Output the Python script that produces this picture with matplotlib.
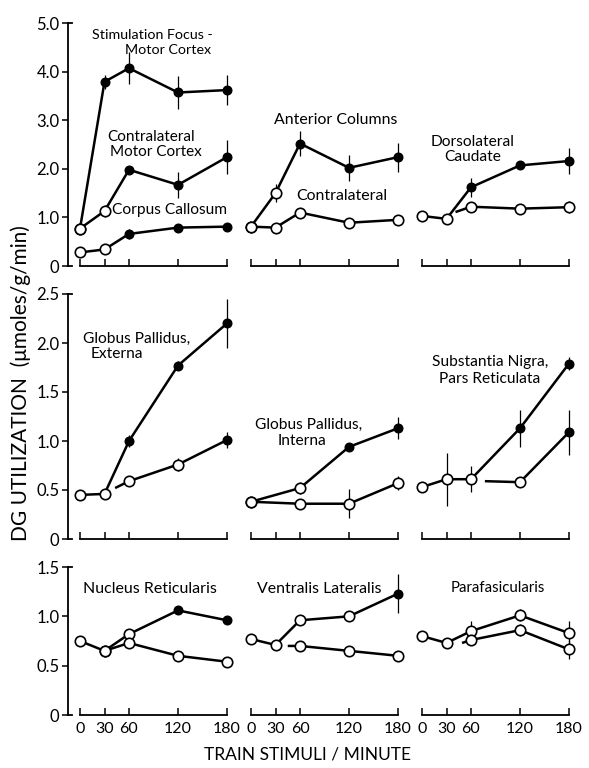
import matplotlib
matplotlib.use("Agg")
import matplotlib.pyplot as plt

plt.rcParams['font.family'] = ['Lato', 'DejaVu Sans']

W, H = 589, 768

X = [0, 30, 60, 120, 180]
XTICK_LABELS = ["0", "30", "60", "120", "180"]

# marker codes: o = open, f = filled, - = no marker (line start stub)

# --- top row ---
focus_y = [0.77, 3.79, 4.07, 3.57, 3.62]
focus_err = [0, 0.15, 0.33, 0.33, 0.3]
focus_mk = "offff"
contra_mc_y = [0.77, 1.13, 1.98, 1.67, 2.24]
contra_mc_err = [0, 0.12, 0.05, 0.27, 0.35]
contra_mc_mk = "oofff"
callosum_y = [0.28, 0.34, 0.66, 0.79, 0.81]
callosum_err = [0, 0, 0.1, 0.05, 0.05]
callosum_mk = "oofff"

ant_col_y = [0.81, 1.50, 2.52, 2.02, 2.24]
ant_col_err = [0, 0.18, 0.26, 0.27, 0.3]
ant_col_mk = "oofff"
ant_contra_y = [0.81, 0.79, 1.10, 0.89, 0.95]
ant_contra_err = [0, 0, 0.05, 0.05, 0.05]
ant_contra_mk = "ooooo"

caudate_y = [1.03, 0.97, 1.62, 2.07, 2.16]
caudate_err = [0, 0, 0.2, 0.05, 0.27]
caudate_mk = "oofff"
caudate_contra_x = [41, 60, 120, 180]
caudate_contra_y = [1.11, 1.22, 1.18, 1.21]
caudate_contra_err = [0, 0.05, 0.05, 0.12]
caudate_contra_mk = "-ooo"

# --- middle row ---
gpe_y = [0.45, 0.46, 1.00, 1.77, 2.20]
gpe_err = [0, 0, 0.06, 0.05, 0.25]
gpe_mk = "oofff"
gpe_contra_x = [43, 60, 120, 180]
gpe_contra_y = [0.52, 0.59, 0.76, 1.01]
gpe_contra_err = [0, 0.04, 0.07, 0.08]
gpe_contra_mk = "-oof"

gpi_x = [0, 60, 120, 180]
gpi_y = [0.38, 0.52, 0.94, 1.13]
gpi_err = [0, 0.06, 0.03, 0.11]
gpi_mk = "ooff"
gpi_contra_x = [0, 60, 120, 180]
gpi_contra_y = [0.38, 0.36, 0.36, 0.57]
gpi_contra_err = [0, 0, 0.15, 0.07]
gpi_contra_mk = "oooo"

snr_y = [0.53, 0.61, 0.61, 1.13, 1.79]
snr_err = [0, 0.27, 0.13, 0.19, 0.07]
snr_mk = "oooff"
snr_contra_x = [77, 120, 180]
snr_contra_y = [0.59, 0.58, 1.09]
snr_contra_err = [0, 0.05, 0.23]
snr_contra_mk = "-of"

# --- bottom row ---
nr_y = [0.75, 0.65, 0.82, 1.06, 0.96]
nr_err = [0, 0, 0.03, 0.04, 0.03]
nr_mk = "oooff"
nr_contra_x = [30, 60, 120, 180]
nr_contra_y = [0.65, 0.73, 0.60, 0.54]
nr_contra_err = [0, 0, 0.03, 0.02]
nr_contra_mk = "oooo"

vl_y = [0.77, 0.71, 0.96, 1.00, 1.23]
vl_err = [0, 0, 0.05, 0.03, 0.2]
vl_mk = "oooof"
vl_contra_x = [45, 60, 120, 180]
vl_contra_y = [0.70, 0.70, 0.65, 0.60]
vl_contra_err = [0, 0, 0.03, 0.05]
vl_contra_mk = "-ooo"

pf_y = [0.80, 0.73, 0.85, 1.01, 0.83]
pf_err = [0, 0, 0.1, 0.06, 0.12]
pf_mk = "ooooo"
pf_contra_x = [49, 60, 120, 180]
pf_contra_y = [0.73, 0.76, 0.86, 0.665]
pf_contra_err = [0, 0, 0.06, 0.1]
pf_contra_mk = "-ooo"

# layout in pixels
COL_X0 = [80, 251, 422]          # pixel of x = 0
SX = 147 / 180                    # px per x unit
ROWS = [(266, 23, 5.0, [0, 1, 2, 3, 4, 5], ["0", "1.0", "2.0", "3.0", "4.0", "5.0"]),
        (539, 294, 2.5, [0, 0.5, 1, 1.5, 2, 2.5], ["0", "0.5", "1.0", "1.5", "2.0", "2.5"]),
        (715, 567, 1.5, [0, 0.5, 1, 1.5], ["0", "0.5", "1.0", "1.5"])]

panels = [
    [[(X, focus_y, focus_err, focus_mk), (X, contra_mc_y, contra_mc_err, contra_mc_mk),
      (X, callosum_y, callosum_err, callosum_mk)],
     [(X, ant_col_y, ant_col_err, ant_col_mk), (X, ant_contra_y, ant_contra_err, ant_contra_mk)],
     [(X, caudate_y, caudate_err, caudate_mk),
      (caudate_contra_x, caudate_contra_y, caudate_contra_err, caudate_contra_mk)]],
    [[(X, gpe_y, gpe_err, gpe_mk), (gpe_contra_x, gpe_contra_y, gpe_contra_err, gpe_contra_mk)],
     [(gpi_x, gpi_y, gpi_err, gpi_mk), (gpi_contra_x, gpi_contra_y, gpi_contra_err, gpi_contra_mk)],
     [(X, snr_y, snr_err, snr_mk), (snr_contra_x, snr_contra_y, snr_contra_err, snr_contra_mk)]],
    [[(X, nr_y, nr_err, nr_mk), (nr_contra_x, nr_contra_y, nr_contra_err, nr_contra_mk)],
     [(X, vl_y, vl_err, vl_mk), (vl_contra_x, vl_contra_y, vl_contra_err, vl_contra_mk)],
     [(X, pf_y, pf_err, pf_mk), (pf_contra_x, pf_contra_y, pf_contra_err, pf_contra_mk)]],
]

# panel labels: (text, center x px, center y px, font size)
labels = [
    ("Stimulation Focus -", 152, 35, 10.3), ("Motor Cortex", 168, 50, 10.3),
    ("Contralateral", 151, 137, 11), ("Motor Cortex", 156, 152, 11),
    ("Corpus Callosum", 170, 210, 11.2),
    ("Anterior Columns", 336, 120, 11.4), ("Contralateral", 342, 196, 11.4),
    ("Dorsolateral", 473, 142, 11.2), ("Caudate", 473, 157, 11.2),
    ("Globus Pallidus,", 137, 339, 11.2), ("Externa", 117, 354, 11.2),
    ("Globus Pallidus,", 309, 425, 11.2), ("Interna", 302, 441, 11.2),
    ("Substantia Nigra,", 490, 362, 11.2), ("Pars Reticulata", 490, 379, 11.2),
    ("Nucleus Reticularis", 150, 589, 11.5), ("Ventralis Lateralis", 319, 589, 11.4),
    ("Parafasicularis", 498, 588, 10.8),
]

fig = plt.figure(figsize=(W / 100, H / 100), dpi=100)


def draw_series(ax, xs, ys, errs, marks):
    ax.plot(xs, ys, color='k', lw=1.8, zorder=2, solid_capstyle='butt')
    for x, y, e, m in zip(xs, ys, errs, marks):
        if e:
            ax.vlines(x, y - e, y + e, color='k', lw=0.9, zorder=1)
        if m == 'o':
            ax.plot(x, y, 'o', ms=7.5, mfc='white', mec='k', mew=1.2, zorder=3)
        elif m == 'f':
            ax.plot(x, y, 'o', ms=6.2, color='k', zorder=3)


for r, (y0, ytop, ymax, yt, ytl) in enumerate(ROWS):
    for c, x0 in enumerate(COL_X0):
        left = x0 - 15 * SX
        ax = fig.add_axes([left / W, 1 - y0 / H, 210 * SX / W, (y0 - ytop) / H])
        ax.set_xlim(-15, 195)
        ax.set_ylim(0, ymax)
        ax.patch.set_alpha(0)
        for s in ('top', 'right'):
            ax.spines[s].set_visible(False)
        ax.spines['bottom'].set_bounds(0, 180)
        ax.spines['bottom'].set_linewidth(1.3)
        ax.set_xticks(X)
        ax.tick_params(axis='x', direction='in', length=5, width=1.1, pad=5, labelsize=11.5)
        if r == 2:
            ax.set_xticklabels(XTICK_LABELS)
        else:
            ax.set_xticklabels([])
        if c == 0:
            ax.spines['left'].set_bounds(0, ymax)
            ax.spines['left'].set_linewidth(1.3)
            ax.set_yticks(yt)
            ax.set_yticklabels(ytl)
            ax.tick_params(axis='y', direction='out', length=4, width=1.1, pad=2, labelsize=12)
            # top cap and bottom foot of the y axis
            ax.plot([0, 0.025], [1, 1], transform=ax.transAxes, color='k', lw=1.3, clip_on=False)
            ax.plot([0, 0.025], [0, 0], transform=ax.transAxes, color='k', lw=1.3, clip_on=False)
        else:
            ax.spines['left'].set_visible(False)
            ax.set_yticks([])
        for xs, ys, errs, marks in panels[r][c]:
            draw_series(ax, xs, ys, errs, marks)

for text, px, py, fs in labels:
    fig.text(px / W, 1 - py / H, text, ha='center', va='center', fontsize=fs)

fig.text(21 / W, 1 - 383 / H, "DG UTILIZATION  (\u03bcmoles/g/min)", rotation=90,
         ha='center', va='center', fontsize=15)
fig.text(307 / W, 1 - 754 / H, "TRAIN STIMULI / MINUTE", ha='center', va='center', fontsize=12.5)

fig.savefig("out.png", dpi=100)
